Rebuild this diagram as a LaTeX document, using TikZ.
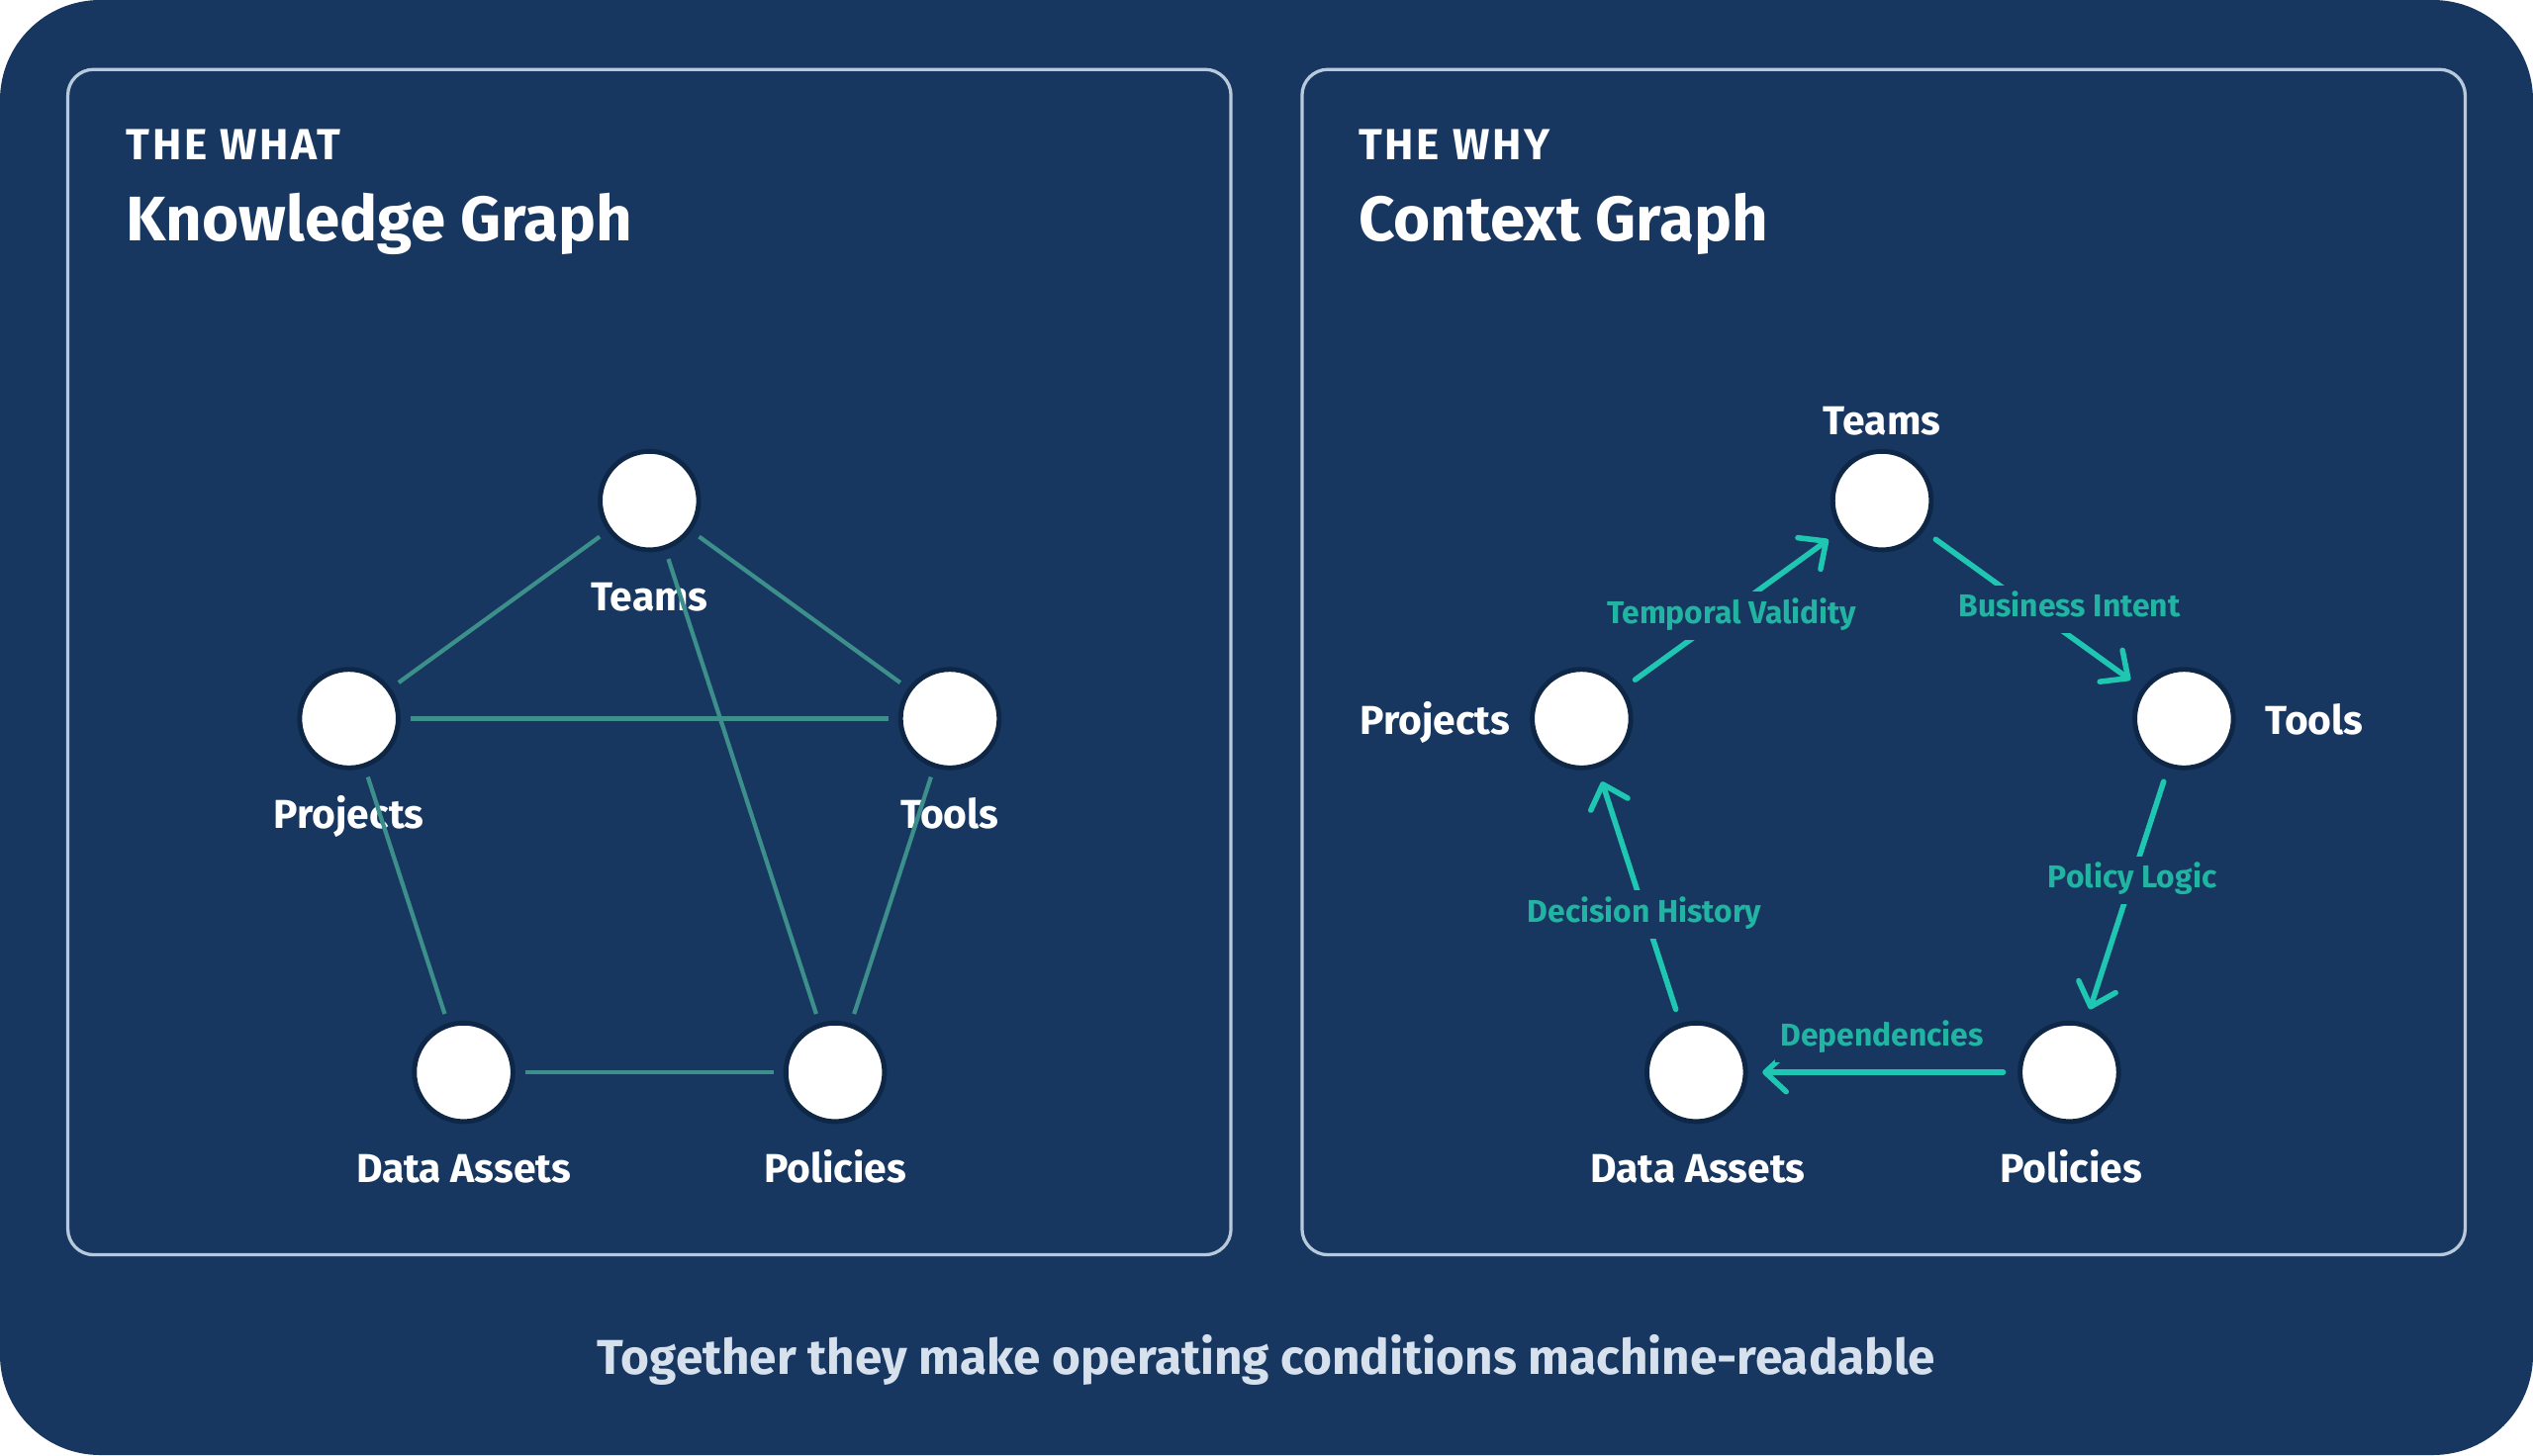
\documentclass[tikz,border=0pt]{standalone}
\usepackage{fontspec}
\setmainfont{Fira Sans}
\usetikzlibrary{arrows.meta}
\definecolor{navy}{HTML}{173760}
\definecolor{ring}{HTML}{0E2746}
\definecolor{panelline}{HTML}{B9C9DC}
\definecolor{mutedteal}{HTML}{3D8F8C}
\definecolor{brightteal}{HTML}{1FC7B3}
\definecolor{labelteal}{HTML}{22B4A2}
\definecolor{foot}{HTML}{D6E1ED}
\tikzset{
  panel/.style={draw=panelline, line width=2pt, rounded corners=16pt},
  gnode/.style={circle, fill=white, draw=ring, line width=3pt, minimum size=61pt, inner sep=0pt},
  nlabel/.style={text=white, font=\bfseries\fontsize{25}{28}\selectfont, inner sep=0pt},
  kedge/.style={draw=mutedteal, line width=2.6pt, shorten <=6pt, shorten >=6pt},
  carrow/.style={draw=brightteal, line width=3.4pt, line cap=round, shorten <=9pt, shorten >=9pt,
    -{Straight Barb[length=13pt, width=24pt, line width=3.4pt, round]}},
  elabel/.style={fill=navy, text=labelteal, font=\bfseries\fontsize{19.5}{23}\selectfont,
    inner xsep=3pt, inner ysep=6pt, text height=13.5pt, text depth=4pt, anchor=base},
  small/.style={text=white, font=\bfseries\fontsize{27}{30}\selectfont\addfontfeatures{LetterSpace=6}, anchor=base west, inner sep=0pt},
  big/.style={text=white, font=\bfseries\fontsize{39}{44}\selectfont, anchor=base west, inner sep=0pt}
}
\begin{document}
\begin{tikzpicture}[x=1pt, y=-1pt]
\useasboundingbox (0,0) rectangle (1568,901);
\fill[navy, rounded corners=62pt] (0,0) rectangle (1568,901);

% panels
\draw[panel] (42,43) rectangle (762,777);
\draw[panel] (806,43) rectangle (1526,777);

% titles
\node[small] (t1) at (78,99) {THE WHAT};
\node[big] (h1) at (78,149) {Knowledge Graph};
\node[small] (t2) at (841,99) {THE WHY};
\node[big] (h2) at (841,149) {Context Graph};

% ---------- Knowledge graph ----------
\node[gnode] (kT) at (402,310) {};
\node[gnode] (kP) at (216,445) {};
\node[gnode] (kO) at (588,445) {};
\node[gnode] (kD) at (287,664) {};
\node[gnode] (kL) at (517,664) {};

\node[nlabel, anchor=base] (kTl) at (402,378) {Teams};
\node[nlabel, anchor=base] (kPl) at (216,513) {Projects};
\node[nlabel, anchor=base] (kOl) at (588,513) {Tools};
\node[nlabel, anchor=base] (kDl) at (287,732) {Data Assets};
\node[nlabel, anchor=base] (kLl) at (517,732) {Policies};

\draw[kedge] (kT) -- (kP);
\draw[kedge] (kT) -- (kO);
\draw[kedge] (kP) -- (kO);
\draw[kedge] (kT) -- (kL);
\draw[kedge] (kP) -- (kD);
\draw[kedge] (kO) -- (kL);
\draw[kedge] (kD) -- (kL);

% ---------- Context graph ----------
\node[gnode] (cT) at (1165,310) {};
\node[gnode] (cP) at (979,445) {};
\node[gnode] (cO) at (1352,445) {};
\node[gnode] (cD) at (1050,664) {};
\node[gnode] (cL) at (1281,664) {};

\node[nlabel, anchor=base] (cTl) at (1165,269) {Teams};
\node[nlabel, anchor=base east] (cPl) at (935,455) {Projects};
\node[nlabel, anchor=base west] (cOl) at (1402,455) {Tools};
\node[nlabel, anchor=base] (cDl) at (1051,732) {Data Assets};
\node[nlabel, anchor=base] (cLl) at (1282,732) {Policies};

\draw[carrow] (cP) -- (cT);
\draw[carrow] (cT) -- (cO);
\draw[carrow] (cO) -- (cL);
\draw[carrow] (cL) -- (cD);
\draw[carrow] (cD) -- (cP);

\node[elabel] (eTV) at (1072,386) {Temporal Validity};
\node[elabel] (eBI) at (1281,382) {Business Intent};
\node[elabel] (ePL) at (1320,550) {Policy Logic};
\node[elabel] (eDH) at (1018,571) {Decision History};
\node[elabel] (eDp) at (1165,648) {Dependencies};

% footer
\node[text=foot, font=\bfseries\fontsize{30.3}{34}\selectfont, anchor=base, inner sep=0pt] (foot) at (784,851)
  {Together they make operating conditions machine-readable};
\end{tikzpicture}
\end{document}
